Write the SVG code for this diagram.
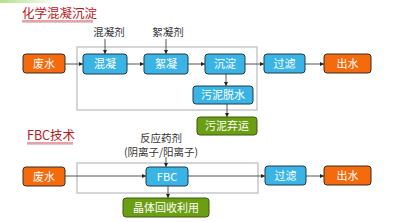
<svg xmlns="http://www.w3.org/2000/svg" width="400" height="222" viewBox="0 0 400 222">
<defs>
<linearGradient id="g" x1="0" y1="0" x2="1" y2="0"><stop offset="0" stop-color="#b5e08a"/><stop offset="1" stop-color="#ffffff"/></linearGradient>
<marker id="a" viewBox="0 0 6 6" refX="6" refY="3" markerWidth="4" markerHeight="4" orient="auto"><path d="M0,0 L6,3 L0,6 z" fill="#222"/></marker>
</defs>
<style>
.t{font-family:"Noto Sans CJK SC","Liberation Sans",sans-serif;}
.title{font-size:12.5px;fill:#c0161c;}
.lbl{font-size:10.5px;fill:#333;text-anchor:middle;}
.bx{font-size:11px;fill:#fff;text-anchor:middle;}
.or{fill:#f46a0c;stroke:#3a2a20;stroke-width:1;}
.bl{fill:#3ab4e4;stroke:#1e3a4a;stroke-width:1;}
.gr{fill:#6b9e12;stroke:#3d5a0a;stroke-width:1;}
.ct{fill:none;stroke:#c8c8c8;stroke-width:1.5;}
.c{fill:none;stroke:#555;stroke-width:1;}
</style>
<rect width="60" height="3" fill="url(#g)"/>
<g id="title1"><text class="t title" x="22" y="18">化学混凝沉淀</text><line x1="22" y1="21" x2="93" y2="21" stroke="#c0161c" stroke-width="0.8"/><line x1="22" y1="22.5" x2="93" y2="22.5" stroke="#e0c8c8" stroke-width="1"/></g>
<g id="title2"><text class="t title" x="27" y="140">FBC技术</text><line x1="27" y1="143" x2="73" y2="143" stroke="#c0161c" stroke-width="0.8"/><line x1="27" y1="144.5" x2="73" y2="144.5" stroke="#e0c8c8" stroke-width="1"/></g>
<g id="containers"><rect class="ct" x="77" y="47" width="180" height="63"/><rect class="ct" x="77" y="163" width="181" height="30"/></g>
<g id="connectors">
<line class="c" x1="65" y1="64" x2="83" y2="64" marker-end="url(#a)"/>
<line class="c" x1="127" y1="64" x2="144" y2="64" marker-end="url(#a)"/>
<line class="c" x1="188" y1="64" x2="205" y2="64" marker-end="url(#a)"/>
<line class="c" x1="245" y1="64" x2="264" y2="64" marker-end="url(#a)"/>
<line class="c" x1="305" y1="64" x2="324" y2="64" marker-end="url(#a)"/>
<line class="c" x1="105" y1="39" x2="105" y2="54" marker-end="url(#a)"/>
<line class="c" x1="166" y1="39" x2="166" y2="54" marker-end="url(#a)"/>
<line class="c" x1="226" y1="74" x2="226" y2="86" marker-end="url(#a)"/>
<line class="c" x1="227" y1="104" x2="227" y2="117" marker-end="url(#a)"/>
<line class="c" x1="65" y1="176" x2="146" y2="176" marker-end="url(#a)"/>
<line class="c" x1="188" y1="176" x2="265" y2="176" marker-end="url(#a)"/>
<line class="c" x1="306" y1="176" x2="324" y2="176" marker-end="url(#a)"/>
<line class="c" x1="166" y1="157" x2="166" y2="167" marker-end="url(#a)"/>
<line class="c" x1="168" y1="186" x2="168" y2="198" marker-end="url(#a)"/>
</g>
<g id="lbl1"><text class="t lbl" x="109" y="36">混凝剂</text></g>
<g id="lbl2"><text class="t lbl" x="168" y="36">絮凝剂</text></g>
<g id="lbl3"><text class="t lbl" x="161" y="142">反应药剂</text><text class="t lbl" x="161" y="156">(阴离子/阳离子)</text></g>
<g id="n1"><rect class="or" x="23" y="54" width="42" height="19" rx="3"/><text class="t bx" x="44" y="67.5">废水</text></g>
<g id="n2"><rect class="bl" x="83" y="54" width="44" height="20" rx="3"/><text class="t bx" x="105" y="68">混凝</text></g>
<g id="n3"><rect class="bl" x="144" y="54" width="44" height="20" rx="3"/><text class="t bx" x="166" y="68">絮凝</text></g>
<g id="n4"><rect class="bl" x="205" y="54" width="40" height="20" rx="3"/><text class="t bx" x="225" y="68">沉淀</text></g>
<g id="n5"><rect class="bl" x="193" y="86" width="60" height="18" rx="3"/><text class="t bx" x="223" y="99">污泥脱水</text></g>
<g id="n6"><rect class="gr" x="197" y="117" width="60" height="18" rx="3"/><text class="t bx" x="227" y="130">污泥弃运</text></g>
<g id="n7"><rect class="bl" x="264" y="54" width="41" height="19" rx="3"/><text class="t bx" x="284.5" y="67.5">过滤</text></g>
<g id="n8"><rect class="or" x="324" y="54" width="47" height="19" rx="3"/><text class="t bx" x="347.5" y="67.5">出水</text></g>
<g id="m1"><rect class="or" x="23" y="167" width="42" height="19" rx="3"/><text class="t bx" x="44" y="180.5">废水</text></g>
<g id="m2"><rect class="bl" x="146" y="167" width="42" height="19" rx="3"/><text class="t bx" x="167" y="180.5">FBC</text></g>
<g id="m3"><rect class="gr" x="123" y="198" width="86" height="19" rx="3"/><text class="t bx" x="166" y="211.5">晶体回收利用</text></g>
<g id="m4"><rect class="bl" x="265" y="166" width="41" height="19" rx="3"/><text class="t bx" x="285.5" y="179.5">过滤</text></g>
<g id="m5"><rect class="or" x="324" y="166" width="47" height="19" rx="3"/><text class="t bx" x="347.5" y="179.5">出水</text></g>
</svg>
